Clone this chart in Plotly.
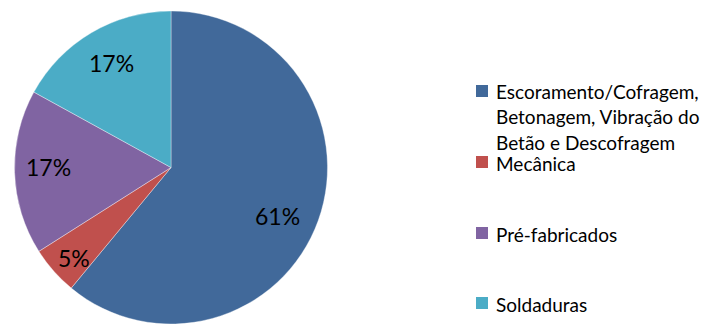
import math
import plotly.graph_objects as go

# Share of work by activity type
categories = [
    "Escoramento/Cofragem, Betonagem, Vibração do Betão e Descofragem",
    "Mecânica",
    "Pré-fabricados",
    "Soldaduras",
]
legend_lines = [
    ["Escoramento/Cofragem,", "Betonagem, Vibração do", "Betão e Descofragem"],
    ["Mecânica"],
    ["Pré-fabricados"],
    ["Soldaduras"],
]
values = [61, 5, 17, 17]
colors = ["#41699A", "#C0504D", "#8064A2", "#4BACC6"]

# Page geometry (pixels)
W, H = 708, 324
TOP = 11
PLOT_H = H - TOP
R = PLOT_H / 2
CX, CY = 171, TOP + R

# Percentage label placement: radial fraction and small angular nudge per slice
label_radius = [0.75, 0.846, 0.785, 0.766]
label_nudge = [4.6, -1.5, 2.0, 1.0]

# Legend layout
legend_sq_x = 476
legend_sq = 12
legend_text_x = 494
legend_item_y = [91, 162, 233, 303]
legend_line_step = 25

FONT = "Lato"


def px_x(x):
    return x / W


def px_y(y):
    return 1 - (y - TOP) / PLOT_H


fig = go.Figure(
    go.Pie(
        labels=categories,
        values=values,
        sort=False,
        direction="clockwise",
        rotation=0,
        marker=dict(colors=colors, line=dict(width=0.6, color="rgba(255,255,255,0.6)")),
        textinfo="none",
        hoverinfo="label+percent",
        showlegend=False,
        domain=dict(x=[px_x(CX - R), px_x(CX + R)], y=[0, 1]),
    )
)

annotations = []
shapes = []

# Percentage labels at each slice's mid-angle
total = sum(values)
cum = 0
for i, v in enumerate(values):
    mid = (cum + v / 2) / total * 360 + label_nudge[i]
    cum += v
    r = R * label_radius[i]
    lx = CX + r * math.sin(math.radians(mid))
    ly = CY - r * math.cos(math.radians(mid))
    annotations.append(
        dict(
            x=px_x(lx), y=px_y(ly), xref="paper", yref="paper",
            text=f"{round(v / total * 100)}%", showarrow=False,
            xanchor="center", yanchor="middle",
            font=dict(family=FONT, size=23, color="#000000"),
        )
    )

# Legend: coloured squares with (possibly wrapped) names
for i, lines in enumerate(legend_lines):
    yc = legend_item_y[i]
    shapes.append(
        dict(
            type="rect", xref="paper", yref="paper",
            x0=px_x(legend_sq_x), x1=px_x(legend_sq_x + legend_sq),
            y0=px_y(yc - legend_sq / 2), y1=px_y(yc + legend_sq / 2),
            fillcolor=colors[i], line=dict(width=0),
        )
    )
    for j, line in enumerate(lines):
        annotations.append(
            dict(
                x=px_x(legend_text_x), y=px_y(yc + j * legend_line_step + 1),
                xref="paper", yref="paper", text=line, showarrow=False,
                xanchor="left", yanchor="middle",
                font=dict(family=FONT, size=19, color="#000000"),
            )
        )

fig.update_layout(
    width=W, height=H,
    margin=dict(l=0, r=0, t=TOP, b=0),
    paper_bgcolor="white", plot_bgcolor="white",
    annotations=annotations, shapes=shapes,
)

fig.write_html("out.html")
